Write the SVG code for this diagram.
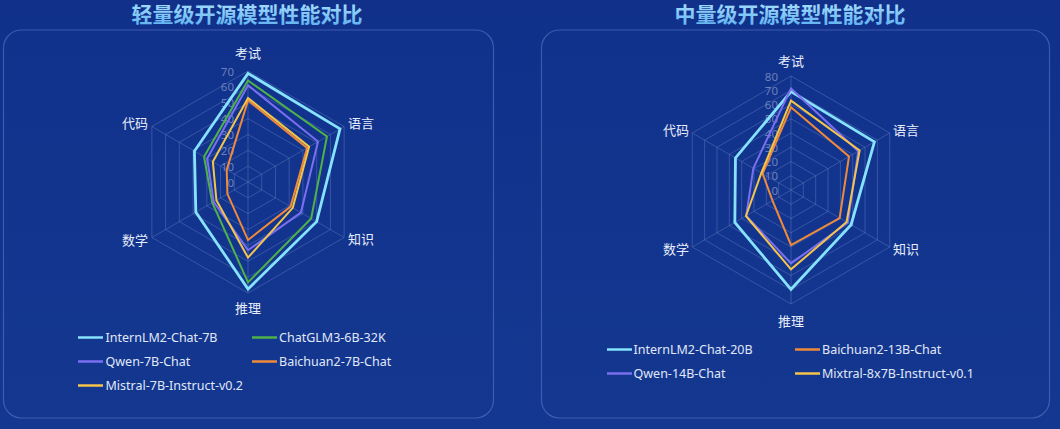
<svg xmlns="http://www.w3.org/2000/svg" xmlns:xlink="http://www.w3.org/1999/xlink" width="1060" height="429" viewBox="0 0 1060 429">
  <defs>
    <linearGradient id="bg" x1="0" y1="0" x2="0" y2="1">
      <stop offset="0" stop-color="#10308a"/>
      <stop offset="1" stop-color="#143891"/>
    </linearGradient>
    <linearGradient id="titleGrad" x1="0" y1="0" x2="0" y2="1">
      <stop offset="0" stop-color="#b4e6ff"/>
      <stop offset="1" stop-color="#5aaef0"/>
    </linearGradient>
    <polygon id="hex" points="0,-1 0.8660254,-0.5 0.8660254,0.5 0,1 -0.8660254,0.5 -0.8660254,-0.5" fill="none" vector-effect="non-scaling-stroke"/>
  </defs>
  <style>
    .panel { fill: #15378f; fill-opacity: 0.35; stroke: #6f8fd8; stroke-opacity: 0.45; stroke-width: 1.2; }
    .title { font-family: "Noto Sans CJK SC", "Noto Sans", sans-serif; font-size: 21px; font-weight: 700; fill: url(#titleGrad); text-anchor: middle; }
    .ring { stroke: #6d86c8; stroke-opacity: 0.4; stroke-width: 1; fill: none; }
    .axis { stroke: #6d86c8; stroke-opacity: 0.4; stroke-width: 1; }
    .aname { font-family: "Noto Sans CJK SC", "Noto Sans", sans-serif; font-size: 13px; fill: #e8eefa; }
    .val { font-family: "Noto Sans", "Liberation Sans", sans-serif; font-size: 11.5px; fill: #8b9ccb; fill-opacity: 0.75; text-anchor: end; dominant-baseline: central; }
    .series { fill: none; stroke-width: 2; stroke-linejoin: miter; }
    .s-cyan { stroke: #86e2ff; stroke-width: 2.8; }
    .s-green { stroke: #4fb248; }
    .s-purple { stroke: #7a6ff0; }
    .s-orange { stroke: #f0893a; }
    .s-yellow { stroke: #f4c54a; }
    .legline { stroke-width: 2.5; }
    .legtext { font-family: "Noto Sans", "Open Sans", sans-serif; font-size: 12.5px; fill: #e0e8f8; dominant-baseline: central; }
  </style>

  <rect x="0" y="0" width="1060" height="429" fill="url(#bg)"/>

  <!-- Left panel -->
  <g id="panel-left">
    <rect class="panel" x="3.5" y="30" width="490" height="388" rx="18"/>
    <text class="title" x="247" y="22">轻量级开源模型性能对比</text>
  </g>

  <!-- Right panel -->
  <g id="panel-right">
    <rect class="panel" x="541.5" y="30" width="508" height="388" rx="18"/>
    <text class="title" x="790" y="22">中量级开源模型性能对比</text>
  </g>

  <!-- Left radar grid -->
  <g id="radar-left-grid">
    <use href="#hex" class="ring" transform="translate(248,182) scale(15.857)"/>
    <use href="#hex" class="ring" transform="translate(248,182) scale(31.714)"/>
    <use href="#hex" class="ring" transform="translate(248,182) scale(47.571)"/>
    <use href="#hex" class="ring" transform="translate(248,182) scale(63.429)"/>
    <use href="#hex" class="ring" transform="translate(248,182) scale(79.286)"/>
    <use href="#hex" class="ring" transform="translate(248,182) scale(95.143)"/>
    <use href="#hex" class="ring" transform="translate(248,182) scale(111)"/>
    <line class="axis" x1="248" y1="182" x2="248" y2="71"/>
    <line class="axis" x1="248" y1="182" x2="344.13" y2="126.5"/>
    <line class="axis" x1="248" y1="182" x2="344.13" y2="237.5"/>
    <line class="axis" x1="248" y1="182" x2="248" y2="293"/>
    <line class="axis" x1="248" y1="182" x2="151.87" y2="237.5"/>
    <line class="axis" x1="248" y1="182" x2="151.87" y2="126.5"/>
  </g>

  <!-- Right radar grid -->
  <g id="radar-right-grid">
    <use href="#hex" class="ring" transform="translate(791,190) scale(14.25)"/>
    <use href="#hex" class="ring" transform="translate(791,190) scale(28.5)"/>
    <use href="#hex" class="ring" transform="translate(791,190) scale(42.75)"/>
    <use href="#hex" class="ring" transform="translate(791,190) scale(57)"/>
    <use href="#hex" class="ring" transform="translate(791,190) scale(71.25)"/>
    <use href="#hex" class="ring" transform="translate(791,190) scale(85.5)"/>
    <use href="#hex" class="ring" transform="translate(791,190) scale(99.75)"/>
    <use href="#hex" class="ring" transform="translate(791,190) scale(114)"/>
    <line class="axis" x1="791" y1="190" x2="791" y2="76"/>
    <line class="axis" x1="791" y1="190" x2="889.73" y2="133"/>
    <line class="axis" x1="791" y1="190" x2="889.73" y2="247"/>
    <line class="axis" x1="791" y1="190" x2="791" y2="304"/>
    <line class="axis" x1="791" y1="190" x2="692.27" y2="247"/>
    <line class="axis" x1="791" y1="190" x2="692.27" y2="133"/>
  </g>

  <!-- Left axis value labels -->
  <g id="radar-left-values">
    <text class="val" x="234" y="182">0</text>
    <text class="val" x="234" y="166.1">10</text>
    <text class="val" x="234" y="150.3">20</text>
    <text class="val" x="234" y="134.4">30</text>
    <text class="val" x="234" y="118.6">40</text>
    <text class="val" x="234" y="102.7">50</text>
    <text class="val" x="234" y="86.9">60</text>
    <text class="val" x="234" y="71">70</text>
  </g>

  <!-- Right axis value labels -->
  <g id="radar-right-values">
    <text class="val" x="778" y="190">0</text>
    <text class="val" x="778" y="175.75">10</text>
    <text class="val" x="778" y="161.5">20</text>
    <text class="val" x="778" y="147.25">30</text>
    <text class="val" x="778" y="133">40</text>
    <text class="val" x="778" y="118.75">50</text>
    <text class="val" x="778" y="104.5">60</text>
    <text class="val" x="778" y="90.25">70</text>
    <text class="val" x="778" y="76">80</text>
  </g>

  <!-- Left axis names -->
  <g id="radar-left-names">
    <text class="aname" x="248" y="58" text-anchor="middle">考试</text>
    <text class="aname" x="348" y="128">语言</text>
    <text class="aname" x="348" y="244">知识</text>
    <text class="aname" x="248" y="313" text-anchor="middle">推理</text>
    <text class="aname" x="148" y="245" text-anchor="end">数学</text>
    <text class="aname" x="148" y="128" text-anchor="end">代码</text>
  </g>

  <!-- Right axis names -->
  <g id="radar-right-names">
    <text class="aname" x="791" y="66" text-anchor="middle">考试</text>
    <text class="aname" x="893" y="135">语言</text>
    <text class="aname" x="893" y="254">知识</text>
    <text class="aname" x="791" y="326" text-anchor="middle">推理</text>
    <text class="aname" x="689" y="254" text-anchor="end">数学</text>
    <text class="aname" x="689" y="135" text-anchor="end">代码</text>
  </g>

  <!-- Left series -->
  <g id="series-left">
    <polygon id="s-internlm2-7b" class="series s-cyan" points="248,73.38 340.01,128.88 316.66,221.64 248,289.04 195.82,212.13 194.44,151.08"/>
    <polygon id="s-chatglm3" class="series s-green" points="248,80.51 326.96,136.41 311.17,218.47 248,282.38 212.29,202.61 204.06,156.63"/>
    <polygon id="s-qwen-7b" class="series s-purple" points="248,85.27 318.04,141.56 300.87,212.53 248,250.19 213.67,201.82 207.21,158.45"/>
    <polygon id="s-baichuan2-7b" class="series s-orange" points="248,100.34 307.05,147.91 290.57,206.58 248,240.04 227.40,193.89 226.71,169.71"/>
    <polygon id="s-mistral-7b" class="series s-yellow" points="248,97.96 309.11,146.72 292.77,207.85 248,257.64 216.42,200.24 212.85,161.70"/>
  </g>

  <!-- Right series -->
  <g id="series-right">
    <polygon id="s-internlm2-20b" class="series s-cyan" points="791,91.67 874.42,141.83 851.10,224.70 791,289.32 734.85,222.42 735.46,157.94"/>
    <polygon id="s-baichuan2-13b" class="series s-orange" points="791,107.35 849.00,156.51 839.62,218.07 791,245.01 772.49,200.69 762.62,173.61"/>
    <polygon id="s-qwen-14b" class="series s-purple" points="791,88.40 858.26,151.17 847.77,222.78 791,263.39 746.20,215.86 753.36,168.27"/>
    <polygon id="s-mixtral" class="series s-yellow" points="791,100.65 859.61,150.38 846.54,222.06 791,269.37 745.96,216.01 761.38,172.90"/>
  </g>

  <!-- Left legend -->
  <g id="legend-left">
    <line class="legline s-cyan" x1="78" y1="337.5" x2="103" y2="337.5" stroke-width="2.5"/>
    <text class="legtext" x="105.5" y="337.5">InternLM2-Chat-7B</text>
    <line class="legline s-green" x1="252" y1="337.5" x2="277" y2="337.5" stroke-width="2.5"/>
    <text class="legtext" x="279" y="337.5">ChatGLM3-6B-32K</text>
    <line class="legline s-purple" x1="78" y1="361.5" x2="103" y2="361.5" stroke-width="2.5"/>
    <text class="legtext" x="105.5" y="361.5">Qwen-7B-Chat</text>
    <line class="legline s-orange" x1="252" y1="361.5" x2="277" y2="361.5" stroke-width="2.5"/>
    <text class="legtext" x="279" y="361.5">Baichuan2-7B-Chat</text>
    <line class="legline s-yellow" x1="78" y1="385.5" x2="103" y2="385.5" stroke-width="2.5"/>
    <text class="legtext" x="105.5" y="385.5">Mistral-7B-Instruct-v0.2</text>
  </g>

  <!-- Right legend -->
  <g id="legend-right">
    <line class="legline s-cyan" x1="607" y1="349.5" x2="632" y2="349.5" stroke-width="2.5"/>
    <text class="legtext" x="633.5" y="349.5">InternLM2-Chat-20B</text>
    <line class="legline s-orange" x1="795" y1="349.5" x2="820" y2="349.5" stroke-width="2.5"/>
    <text class="legtext" x="822" y="349.5">Baichuan2-13B-Chat</text>
    <line class="legline s-purple" x1="607" y1="373.5" x2="632" y2="373.5" stroke-width="2.5"/>
    <text class="legtext" x="633.5" y="373.5">Qwen-14B-Chat</text>
    <line class="legline s-yellow" x1="795" y1="373.5" x2="820" y2="373.5" stroke-width="2.5"/>
    <text class="legtext" x="822" y="373.5">Mixtral-8x7B-Instruct-v0.1</text>
  </g>
</svg>
